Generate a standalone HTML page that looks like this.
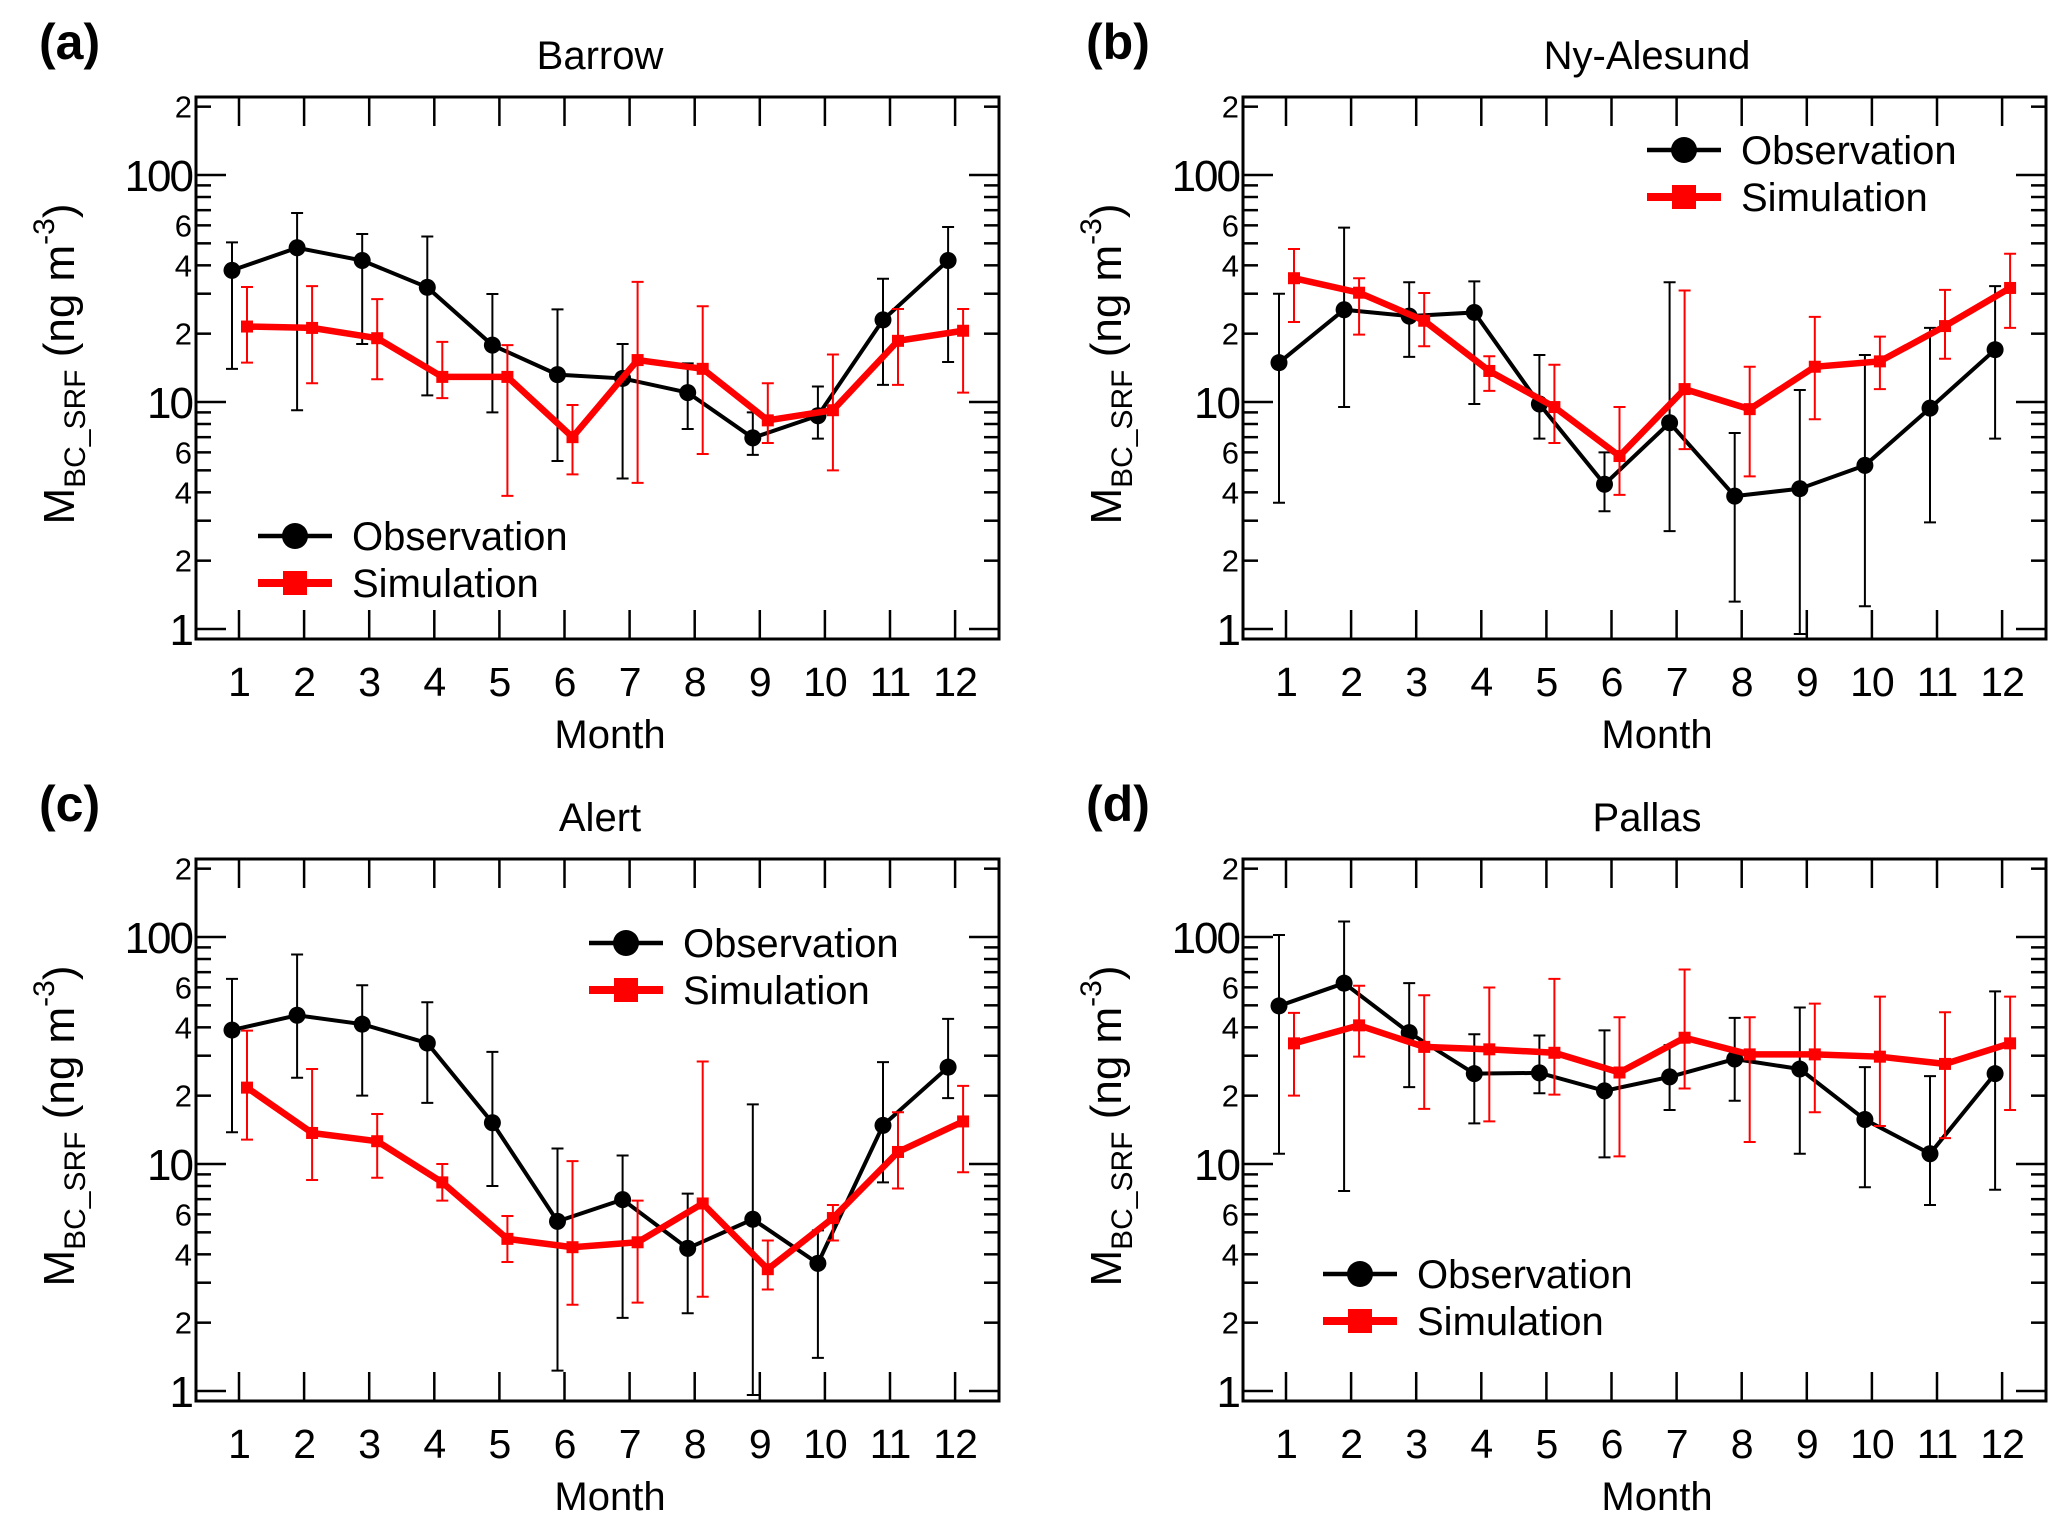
<!DOCTYPE html>
<html><head><meta charset="utf-8">
<style>
html,body{margin:0;padding:0;background:#fff;}
svg{display:block;font-family:"Liberation Sans",Arial,sans-serif;}
</style></head>
<body>
<svg id="fig" width="2067" height="1530" viewBox="0 0 2067 1530" xmlns="http://www.w3.org/2000/svg"></svg>
<script>
const months = [1,2,3,4,5,6,7,8,9,10,11,12];
const yTickValues = [1,2,4,6,10,20,40,60,100,200];
const yTickLabels = ["1","2","4","6","10","2","4","6","100","2"];

// (a) Barrow
const barrowObs   = [38,47.8,42,32,17.8,13.2,12.7,11,6.95,8.7,23,42];
const barrowObsHi = [50.5,68,55,53.6,29.9,25.6,18,14.8,9.0,11.7,34.9,59];
const barrowObsLo = [14,9.2,18,10.7,9.0,5.5,4.6,7.6,5.85,6.9,11.9,15];
const barrowSim   = [21.5,21.2,19.1,12.9,12.9,7.0,15.3,14.0,8.3,9.2,18.6,20.6];
const barrowSimHi = [32.1,32.4,28.4,18.4,17.8,9.7,33.8,26.4,12.1,16.2,25.7,25.7];
const barrowSimLo = [14.9,12.1,12.6,10.4,3.86,4.8,4.4,5.9,6.6,5.0,11.9,11.0];
// (b) Ny-Alesund
const nyObs   = [14.9,25.5,23.9,24.8,9.8,4.34,8.1,3.85,4.15,5.26,9.4,17.0];
const nyObsHi = [30,58.6,33.7,34,16.1,6.0,33.7,7.3,11.3,16.1,21.2,32.4];
const nyObsLo = [3.6,9.5,15.8,9.8,6.9,3.3,2.7,1.32,0.95,1.26,2.95,6.9];
const nySim   = [35.1,30.3,22.8,13.7,9.5,5.78,11.4,9.3,14.3,15.1,21.6,31.8];
const nySimHi = [47.2,35.1,30.2,15.9,14.6,9.5,31,14.3,23.7,19.4,31.2,45];
const nySimLo = [22.5,19.8,17.6,11.2,6.6,3.9,6.2,4.7,8.4,11.4,15.5,21.2];
// (c) Alert
const alertObs   = [38.9,45.2,41.3,34.1,15.2,5.59,6.97,4.25,5.71,3.65,14.8,26.7];
const alertObsHi = [65.4,83.7,61.3,51.6,31.2,11.7,10.9,7.4,18.3,5.1,28.1,43.6];
const alertObsLo = [13.8,24.0,20,18.6,8.0,1.23,2.1,2.2,0.96,1.4,8.3,19.5];
const alertSim   = [21.7,13.7,12.6,8.3,4.68,4.3,4.52,6.7,3.44,5.78,11.3,15.4];
const alertSimHi = [38.7,26.2,16.6,10,5.9,10.3,6.9,28.3,4.6,6.6,16.9,22.1];
const alertSimLo = [12.8,8.5,8.7,6.9,3.7,2.4,2.45,2.6,2.8,4.6,7.8,9.2];
// (d) Pallas
const pallasObs   = [49.7,62.6,37.9,25,25.2,21,24.2,29,26.2,15.7,11.1,25];
const pallasObsHi = [102,117,62.6,37.3,36.8,38.8,33.4,44,48.9,26.7,24.4,57.6];
const pallasObsLo = [11.1,7.6,21.8,15.1,20.5,10.7,17.3,19.0,11.1,7.9,6.6,7.7];
const pallasSim   = [34,40.8,32.8,32,30.9,25.3,36,30.4,30.4,29.7,27.6,34];
const pallasSimHi = [46.3,61,55.4,59.9,65.4,44.3,71.9,44.3,50.9,54.6,46.6,54.6];
const pallasSimLo = [20,29.7,17.5,15.4,20.2,10.8,21.5,12.5,16.9,14.7,13,17.3];

const NS = "http://www.w3.org/2000/svg";
const svg = document.getElementById('fig');
function mk(tag, attrs, parent){
  const e = document.createElementNS(NS, tag);
  for (const k in attrs) e.setAttribute(k, attrs[k]);
  (parent||svg).appendChild(e);
  return e;
}

const panels = [
  {key:'a', title:'Barrow', left:196, top:97, obs:barrowObs, obsHi:barrowObsHi, obsLo:barrowObsLo, sim:barrowSim, simHi:barrowSimHi, simLo:barrowSimLo, leg:[258,536]},
  {key:'b', title:'Ny-Alesund', left:1243, top:97, obs:nyObs, obsHi:nyObsHi, obsLo:nyObsLo, sim:nySim, simHi:nySimHi, simLo:nySimLo, leg:[1647,150]},
  {key:'c', title:'Alert', left:196, top:859, obs:alertObs, obsHi:alertObsHi, obsLo:alertObsLo, sim:alertSim, simHi:alertSimHi, simLo:alertSimLo, leg:[589,943]},
  {key:'d', title:'Pallas', left:1243, top:859, obs:pallasObs, obsHi:pallasObsHi, obsLo:pallasObsLo, sim:pallasSim, simHi:pallasSimHi, simLo:pallasSimLo, leg:[1323,1274]}
];

const W = 803, H = 542, DEC = 227, Y100 = 78;

panels.forEach(p => {
  const g = mk('g', {});
  
  
  const L = p.left, T = p.top;
  const yS = v => T + Y100 + (2 - Math.log10(v)) * DEC;
  const xS = m => L + 43 + (m - 1) * 65.1;

  const lab = mk('text', {x:L-157, y:T-38, 'font-size':50, 'font-weight':'bold', fill:'#000'}, g);
  lab.textContent = '(' + p.key + ')';
  
  
  const tt = mk('text', {x:L+404, y:T-28, 'font-size':40, 'text-anchor':'middle', fill:'#000'}, g);
  tt.textContent = p.title;
  
  

  yTickValues.forEach((v, i) => {
    const y = yS(v);
    const major = (v === 1 || v === 10 || v === 100);
    const len = major ? 30 : 15;
    const t1 = mk('line', {x1:L, x2:L+len, y1:y, y2:y, stroke:'#000', 'stroke-width':2.5}, g);
    
    
    const t2 = mk('line', {x1:L+W, x2:L+W-len, y1:y, y2:y, stroke:'#000', 'stroke-width':2.5}, g);
    
    
    const tl = mk('text', {x:L-4, y:y + (major?16:11), 'font-size': major?44:31, 'text-anchor':'end', fill:'#000', 'letter-spacing': major?-2:0}, g);
    tl.textContent = yTickLabels[i];
    
    
  });
  [3,5,7,8,9,30,50,70,80,90].forEach(v => {
    const y = yS(v);
    const m1 = mk('line', {x1:L, x2:L+15, y1:y, y2:y, stroke:'#000', 'stroke-width':2.5}, g);
    
    
    const m2 = mk('line', {x1:L+W, x2:L+W-15, y1:y, y2:y, stroke:'#000', 'stroke-width':2.5}, g);
    
    
  });
  months.forEach(m => {
    const x = xS(m);
    const a1 = mk('line', {x1:x, x2:x, y1:T+H, y2:T+H-29, stroke:'#000', 'stroke-width':2.5}, g);
    
    
    const a2 = mk('line', {x1:x, x2:x, y1:T, y2:T+29, stroke:'#000', 'stroke-width':2.5}, g);
    
    
    const xl = mk('text', {x:x, y:T+H+57, 'font-size':41, 'text-anchor':'middle', fill:'#000', 'letter-spacing':-1}, g);
    xl.textContent = String(m);
    
    
  });
  const fr = mk('rect', {x:L, y:T, width:W, height:H, fill:'none', stroke:'#000', 'stroke-width':3}, g);
  
  

  const xt = mk('text', {x:L+414, y:T+H+109, 'font-size':40, 'text-anchor':'middle', fill:'#000'}, g);
  xt.textContent = 'Month';
  
  
  const yt = mk('text', {x:0, y:0, 'font-size':44, 'text-anchor':'middle', fill:'#000', transform:'translate(' + (L-122) + ',' + (T+H/2 - 4) + ') rotate(-90)'}, g);
  
  
  yt.innerHTML = 'M<tspan font-size="30" dy="11">BC_SRF</tspan><tspan dy="-11"> (ng m</tspan><tspan font-size="30" dy="-20">-3</tspan><tspan dy="20">)</tspan>';

  const ox = m => xS(m) - 7, sx = m => xS(m) + 8;
  months.forEach((m, i) => {
    const x = ox(m);
    const e = mk('path', {d:'M'+x+' '+yS(p.obsHi[i])+'V'+yS(p.obsLo[i])+'M'+(x-6)+' '+yS(p.obsHi[i])+'h12M'+(x-6)+' '+yS(p.obsLo[i])+'h12', stroke:'#000', 'stroke-width':2, fill:'none'}, g);
    
    
  });
  const ol = mk('polyline', {points: months.map((m,i)=> ox(m)+','+yS(p.obs[i])).join(' '), fill:'none', stroke:'#000', 'stroke-width':4}, g);
  
  
  months.forEach((m, i) => {
    const c = mk('circle', {cx:ox(m), cy:yS(p.obs[i]), r:8.5, fill:'#000'}, g);
    
    
  });
  months.forEach((m, i) => {
    const x = sx(m);
    const e = mk('path', {d:'M'+x+' '+yS(p.simHi[i])+'V'+yS(p.simLo[i])+'M'+(x-6)+' '+yS(p.simHi[i])+'h12M'+(x-6)+' '+yS(p.simLo[i])+'h12', stroke:'#f00', 'stroke-width':2, fill:'none'}, g);
    
    
  });
  const sl = mk('polyline', {points: months.map((m,i)=> sx(m)+','+yS(p.sim[i])).join(' '), fill:'none', stroke:'#f00', 'stroke-width':6.5}, g);
  
  
  months.forEach((m, i) => {
    const s = mk('rect', {x:sx(m)-6, y:yS(p.sim[i])-6, width:12, height:12, fill:'#f00'}, g);
    
    
  });

  const lx = p.leg[0], ly = p.leg[1];
  const lg = mk('g', {}, g);
  
  
  mk('line', {x1:lx, x2:lx+74, y1:ly, y2:ly, stroke:'#000', 'stroke-width':4.5}, lg);
  mk('circle', {cx:lx+37, cy:ly, r:13, fill:'#000'}, lg);
  const t1 = mk('text', {x:lx+94, y:ly+14, 'font-size':40, fill:'#000'}, lg);
  t1.textContent = 'Observation';
  
  
  mk('line', {x1:lx, x2:lx+74, y1:ly+47, y2:ly+47, stroke:'#f00', 'stroke-width':8}, lg);
  mk('rect', {x:lx+25, y:ly+35, width:24, height:24, fill:'#f00'}, lg);
  const t2 = mk('text', {x:lx+94, y:ly+61, 'font-size':40, fill:'#000'}, lg);
  t2.textContent = 'Simulation';
  
  
});
</script>
</body></html>
